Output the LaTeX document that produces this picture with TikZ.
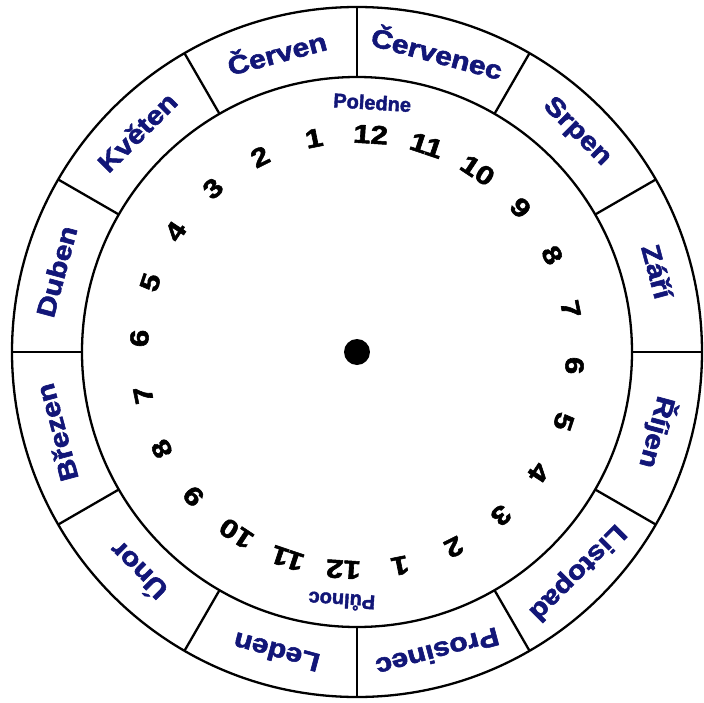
\documentclass[tikz,border=0pt]{standalone}
\usepackage{fontspec}
\setmainfont{Liberation Sans}
\newfontfamily\heavyfont[FakeBold=2]{Liberation Sans Bold}
\definecolor{navy}{RGB}{18,22,120}
\begin{document}
\begin{tikzpicture}[x=1pt,y=1pt,
  ring/.style={draw=black, line width=2.3pt},
  month/.style={text=navy, font=\heavyfont\fontsize{26}{30}\selectfont, xscale=1.15, inner sep=0pt},
  hour/.style={text=black, font=\heavyfont\fontsize{26}{30}\selectfont, xscale=1.2, inner sep=0pt},
  noon/.style={text=navy, font=\heavyfont\fontsize{20}{24}\selectfont, inner sep=0pt}]
\useasboundingbox (-357,-350) rectangle (347,352);
\fill[white] (-357,-350) rectangle (347,352);
\draw[ring] (0,0) circle (345);
\draw[ring] (0,0) circle (275);
\foreach \k in {0,...,11} {
  \draw[ring] (\k*30:275) -- (\k*30:345);
}
\foreach \m [count=\i from 0] in {Červenec, Srpen, Září, Říjen, Listopad, Prosinec, Leden, Únor, Březen, Duben, Květen, Červen} {
  \pgfmathsetmacro\a{75-30*\i}
  \node[rotate=\a-90, month] (m\i) at (\a:311) {\m};
}
\foreach \h [count=\i from 0] in {12,11,10,9,8,7,6,5,4,3,2,1,12,11,10,9,8,7,6,5,4,3,2,1} {
  \pgfmathsetmacro\a{90-15*\i-3.6}
  \node[rotate=\a-90, hour] (h\i) at (\a:218) {\h};
}
\node[rotate=-3.5, noon] (noon) at (86.5:250) {Poledne};
\node[rotate=176.5, noon] (midnight) at (266.5:250) {Půlnoc};
\fill[black] (0,0) circle (13);
\end{tikzpicture}
\end{document}
